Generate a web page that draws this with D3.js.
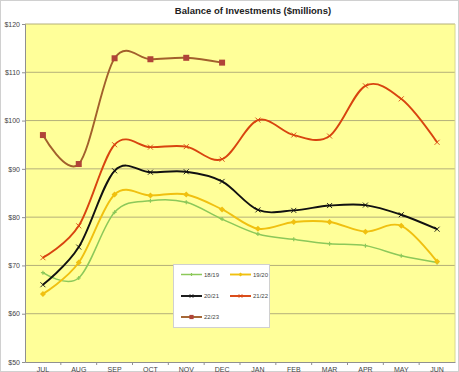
<!DOCTYPE html>
<html>
<head>
<meta charset="utf-8">
<script src="https://cdn.jsdelivr.net/npm/d3@7"></script>
<style>
  html, body { margin: 0; padding: 0; background: #fff; }
  svg { display: block; font-family: Arial, "Liberation Sans", sans-serif; }
</style>
</head>
<body>
<svg id="chart" width="459" height="372"></svg>
<script>
// Month categories (fiscal year July–June)
const months = ["JUL", "AUG", "SEP", "OCT", "NOV", "DEC", "JAN", "FEB", "MAR", "APR", "MAY", "JUN"];

// Balance of investments, $ millions, per fiscal year
const fy1819 = [68.5, 67.4, 81.0, 83.4, 83.1, 79.6, 76.5, 75.4, 74.5, 74.1, 72.0, 70.6];
const fy1920 = [64.1, 70.6, 84.7, 84.5, 84.7, 81.6, 77.6, 79.0, 79.0, 77.0, 78.2, 70.8];
const fy2021 = [66.0, 73.8, 89.6, 89.3, 89.4, 87.4, 81.5, 81.4, 82.4, 82.5, 80.5, 77.5];
const fy2122 = [71.6, 78.2, 95.0, 94.5, 94.6, 92.0, 100.1, 97.0, 96.8, 107.2, 104.5, 95.5];
const fy2223 = [97.0, 91.0, 112.9, 112.7, 113.0, 112.0];

const yTicks = [50, 60, 70, 80, 90, 100, 110, 120];

const series = [
  { name: "18/19", values: fy1819, color: "#8cc85a", marker: "plus",    width: 1.5 },
  { name: "19/20", values: fy1920, color: "#f0c010", marker: "diamond", width: 1.9 },
  { name: "20/21", values: fy2021, color: "#111111", marker: "x",       width: 1.9 },
  { name: "21/22", values: fy2122, color: "#d8440f", marker: "x",       width: 1.9 },
  { name: "22/23", values: fy2223, color: "#a2602c", marker: "square",  width: 1.9, markerColor: "#b04438" }
];

const svg = d3.select("#chart");
const W = 459, H = 372;
const plot = { left: 25, right: 455, top: 24, bottom: 362 };

// Chart area border
svg.append("rect")
  .attr("x", 0.5).attr("y", 0.5).attr("width", W - 1).attr("height", H - 1)
  .attr("fill", "#fff").attr("stroke", "#d0d0d0");

const x = d3.scaleBand().domain(months).range([plot.left, plot.right]).padding(0);
const y = d3.scaleLinear().domain([50, 120]).range([plot.bottom, plot.top]);
const cx = m => x(m) + x.bandwidth() / 2;

// Plot area background
svg.append("rect")
  .attr("x", plot.left).attr("y", plot.top)
  .attr("width", plot.right - plot.left).attr("height", plot.bottom - plot.top)
  .attr("fill", "#ffff99");

// Horizontal gridlines
svg.append("g").selectAll("line").data(yTicks.filter(t => t > 50)).join("line")
  .attr("x1", plot.left).attr("x2", plot.right)
  .attr("y1", d => y(d)).attr("y2", d => y(d))
  .attr("stroke", "#b4b07a").attr("stroke-width", 1);

// Right edge of plot area
svg.append("line")
  .attr("x1", plot.right).attr("x2", plot.right)
  .attr("y1", plot.top).attr("y2", plot.bottom)
  .attr("stroke", "#d8d890").attr("stroke-width", 1);

// Y axis
const yAxis = d3.axisLeft(y).tickValues(yTicks).tickSize(3).tickPadding(2)
  .tickFormat(d => "$" + d);
const gy = svg.append("g").attr("transform", `translate(${plot.left},0)`).call(yAxis);
gy.select(".domain").attr("stroke", "#909090");
gy.selectAll(".tick line").attr("stroke", "#909090");
gy.selectAll(".tick text").attr("font-size", 7).attr("fill", "#444");

// X axis
const xAxis = d3.axisBottom(x).tickSize(0).tickPadding(5);
const gx = svg.append("g").attr("transform", `translate(0,${plot.bottom})`).call(xAxis);
gx.select(".domain").attr("stroke", "#909090");
gx.selectAll(".tick text").attr("font-size", 7).attr("fill", "#444");
// Category separators
gx.append("g").selectAll("line").data(months.slice(1)).join("line")
  .attr("x1", d => x(d)).attr("x2", d => x(d))
  .attr("y1", 0).attr("y2", 3)
  .attr("stroke", "#909090");

// Title
svg.append("text")
  .attr("x", 253).attr("y", 14)
  .attr("text-anchor", "middle")
  .attr("font-size", 9.5).attr("font-weight", "bold").attr("fill", "#222")
  .text("Balance of Investments ($millions)");

// Smoothed lines
const line = d3.line()
  .x((d, i) => cx(months[i]))
  .y(d => y(d))
  .curve(d3.curveCardinal.tension(0));

function drawMarker(g, type, px, py, color, s) {
  if (type === "square") {
    g.append("rect").attr("x", px - s / 2).attr("y", py - s / 2)
      .attr("width", s).attr("height", s).attr("fill", color);
  } else if (type === "diamond") {
    g.append("path")
      .attr("d", `M${px},${py - s / 2}L${px + s / 2},${py}L${px},${py + s / 2}L${px - s / 2},${py}Z`)
      .attr("fill", color);
  } else if (type === "x") {
    const h = s / 2;
    g.append("path")
      .attr("d", `M${px - h},${py - h}L${px + h},${py + h}M${px - h},${py + h}L${px + h},${py - h}`)
      .attr("stroke", color).attr("stroke-width", 0.9);
  } else if (type === "plus") {
    const h = s / 2;
    g.append("path")
      .attr("d", `M${px - h},${py}L${px + h},${py}M${px},${py - h}L${px},${py + h}`)
      .attr("stroke", color).attr("stroke-width", 1.2);
  }
}

const markerSize = { square: 6, diamond: 6, x: 5, plus: 4 };

series.forEach(s => {
  const g = svg.append("g");
  g.append("path")
    .attr("d", line(s.values))
    .attr("fill", "none")
    .attr("stroke", s.color)
    .attr("stroke-width", s.width)
    .attr("stroke-linejoin", "round");
  s.values.forEach((v, i) => {
    drawMarker(g, s.marker, cx(months[i]), y(v), s.markerColor || s.color, markerSize[s.marker]);
  });
});

// Legend
const lg = svg.append("g");
lg.append("rect")
  .attr("x", 173.5).attr("y", 264.5).attr("width", 96).attr("height", 63)
  .attr("fill", "#fff").attr("stroke", "#d0d0d0");
const legendPos = [
  [181, 274.5], [230, 274.5],
  [181, 296], [230, 296],
  [181, 317]
];
series.forEach((s, i) => {
  const [lx, ly] = legendPos[i];
  lg.append("line")
    .attr("x1", lx).attr("x2", lx + 21).attr("y1", ly).attr("y2", ly)
    .attr("stroke", s.color).attr("stroke-width", s.width);
  drawMarker(lg, s.marker, lx + 10.5, ly, s.markerColor || s.color, markerSize[s.marker] * 0.7);
  lg.append("text")
    .attr("x", lx + 23).attr("y", ly + 2.2)
    .attr("font-size", 6).attr("fill", "#444")
    .text(s.name);
});
</script>
</body>
</html>
